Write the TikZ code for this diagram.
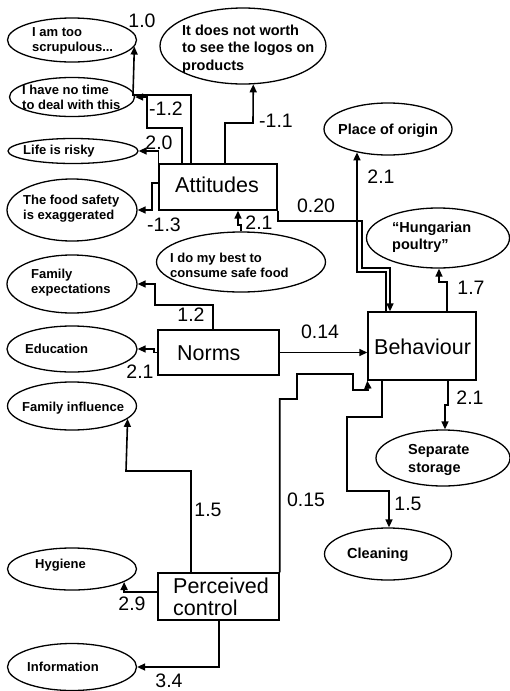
\documentclass[tikz,border=0pt]{standalone}
\usepackage{fontspec}
\setmainfont{Liberation Sans}
\usetikzlibrary{shapes.geometric,arrows.meta}
\begin{document}
\begin{tikzpicture}[x=1pt,y=-1pt,
  oval/.style={ellipse,draw,line width=1.3pt,inner sep=0pt},
  box/.style={rectangle,draw,line width=1.4pt,inner sep=0pt},
  otext/.style={font=\fontsize{13}{15}\selectfont\bfseries,align=left,inner sep=0pt,anchor=west},
  otextL/.style={otext,font=\fontsize{14.5}{17.5}\selectfont\bfseries},
  btext/.style={font=\fontsize{21.5}{22}\selectfont,inner sep=0pt,anchor=base west},
  num/.style={font=\fontsize{19.5}{20}\selectfont,inner sep=0pt},
  conn/.style={line width=1.6pt},
  arr/.style={conn,-{Triangle[length=8pt,width=7pt]}}]
\useasboundingbox (0,0) rectangle (510,691);

% ---------- boxes ----------
\node[box,minimum width=118pt,minimum height=46pt] (att) at (218,187) {};
\node[btext] (attT) at (175,192) {Attitudes};
\node[box,minimum width=121pt,minimum height=45pt] (norms) at (218.5,352.5) {};
\node[btext] (normsT) at (177,360) {Norms};
\node[box,minimum width=108pt,minimum height=68pt] (beh) at (422,346) {};
\node[btext] (behT) at (374,354) {Behaviour};
\node[box,minimum width=121pt,minimum height=47pt] (pc) at (218.5,596.5) {};
\node[btext] (pcT1) at (173,593) {Perceived};
\node[btext] (pcT2) at (173,615) {control};

% ---------- ellipses ----------
\node[oval,minimum width=129pt,minimum height=44pt] (e1) at (72,40) {};
\node[otext] (t1) at (32,41) {I am too\\scrupulous...};
\node[oval,minimum width=125pt,minimum height=39pt] (e2) at (72,97) {};
\node[otext] (t2) at (22,97) {I have no time\\to deal with this};
\node[oval,minimum width=130pt,minimum height=25pt] (e3) at (73,151) {};
\node[otext] (t3) at (23,151) {Life is risky};
\node[oval,minimum width=130pt,minimum height=62pt] (e4) at (72,210) {};
\node[otext] (t4) at (23,209) {The food safety\\is exaggerated};
\node[oval,minimum width=166pt,minimum height=76pt] (e5) at (243,46) {};
\node[otextL] (t5) at (182,49) {It does not worth\\to see the logos on\\products};
\node[oval,minimum width=128pt,minimum height=52pt] (e6) at (388,129) {};
\node[otextL] (t6) at (338,131) {Place of origin};
\node[oval,minimum width=169pt,minimum height=60pt] (e7) at (241,262) {};
\node[otext] (t7) at (170,265) {I do my best to\\consume safe food};
\node[oval,minimum width=143pt,minimum height=60pt] (e8) at (438,238) {};
\node[otextL] (t8) at (392,237) {“Hungarian\\poultry”};
\node[oval,minimum width=130pt,minimum height=58pt] (e9) at (72,284) {};
\node[otext] (t9) at (31,283) {Family\\expectations};
\node[oval,minimum width=130pt,minimum height=46pt] (e10) at (72,349) {};
\node[otext] (t10) at (25,349) {Education};
\node[oval,minimum width=129pt,minimum height=48pt] (e11) at (72,406) {};
\node[otext] (t11) at (22,408) {Family influence};
\node[oval,minimum width=129pt,minimum height=42pt] (e12) at (72,569) {};
\node[otext] (t12) at (35,565) {Hygiene};
\node[oval,minimum width=129pt,minimum height=47pt] (e13) at (72,667) {};
\node[otext] (t13) at (27,667) {Information};
\node[oval,minimum width=134pt,minimum height=56pt] (e14) at (443,458) {};
\node[otextL] (t14) at (408,460) {Separate\\storage};
\node[oval,minimum width=127pt,minimum height=52pt] (e15) at (388,554) {};
\node[otextL] (t15) at (347,555) {Cleaning};

% ---------- connectors: Attitudes ----------
\draw[arr] (att.north -| 191,0) |- (133,95) -- (e1.-6.7);
\draw[arr] (att.north -| 182,0) |- (147,128) |- (e2.east);
\draw[arr] (att.north west) |- (e3.east);
\draw[arr] (att.west |- 0,183) -| (152,210) -- (e4.east);
\draw[arr] (att.north -| 225,0) |- (253,123) -- (e5.-75.15);
\draw[arr] (e7.north) |- (238,225) -- (att.south -| 238,0);
\draw[arr] (att.south east) |- (362,221) |- (390,268) -- (beh.north -| 390,0);

% ---------- connectors: Behaviour ----------
\draw[arr] (beh.north -| 386,0) |- (357,272) -- (e6.-143.7);
\draw[arr] (beh.north -| 447,0) |- (439,282) -- (e8.south -| 439,0);
\draw[arr] (beh.south -| 448,0) |- (445,405) -- (e14.north -| 445,0);
\draw[arr] (beh.south -| 382,0) |- (347,417) |- (389,491) -- (e15.north -| 389,0);

% ---------- connectors: Norms ----------
\draw[arr] (norms.north -| 213,0) |- (155,305) |- (e9.east);
\draw[arr] (norms.west) -| (154,349) -- (e10.east);
\draw[arr] (norms.east) -- (norms.east -| beh.west);

% ---------- connectors: Perceived control ----------
\draw[arr] (pc.north -| 191,0) |- (126,471) -- (e11.-13.67);
\draw[arr] (pc.west |- 0,592) -| (e12.-14.15);
\draw[arr] (pc.south -| 219,0) |- (e13.east);
\draw[arr] (pc.north east) |- (297,399) |- (353,374) |- (368,390) -- (beh.south west);

% ---------- numbers ----------
\node[num] (n1) at (142,21) {1.0};
\node[num] (n2) at (166,109) {-1.2};
\node[num] (n3) at (159,143) {2.0};
\node[num] (n4) at (164,225) {-1.3};
\node[num] (n5) at (276,121) {-1.1};
\node[num] (n6) at (259,223) {2.1};
\node[num] (n7) at (316,206) {0.20};
\node[num] (n8) at (381,177) {2.1};
\node[num] (n9) at (471,288) {1.7};
\node[num] (n10) at (191,315) {1.2};
\node[num] (n11) at (140,372) {2.1};
\node[num] (n12) at (320,332) {0.14};
\node[num] (n13) at (470,398) {2.1};
\node[num] (n14) at (408,504) {1.5};
\node[num] (n15) at (306,500) {0.15};
\node[num] (n16) at (208,510) {1.5};
\node[num] (n17) at (132,604) {2.9};
\node[num] (n18) at (169,681) {3.4};
\end{tikzpicture}
\end{document}
